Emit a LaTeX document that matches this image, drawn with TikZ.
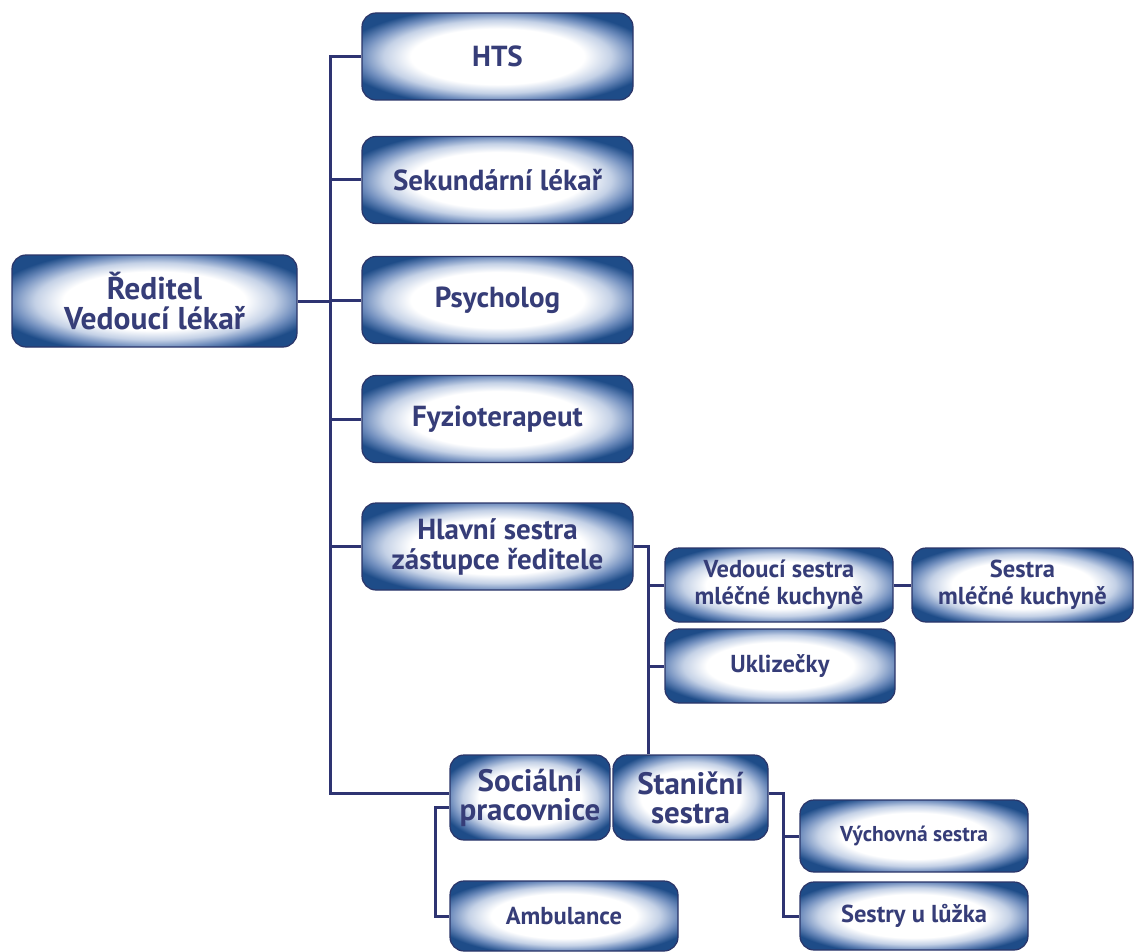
\documentclass[tikz,border=0pt]{standalone}
\usepackage{fontspec}
\setmainfont{PT Sans}
\definecolor{boxdark}{HTML}{1E4C88}
\definecolor{boxmid}{HTML}{6F8DBD}
\definecolor{boxlight}{HTML}{C4D1E6}
\definecolor{boxborder}{HTML}{2B3569}
\definecolor{txt}{HTML}{363D78}
\definecolor{linec}{HTML}{2E3472}
\pgfdeclareradialshading{boxshade}{\pgfpoint{0bp}{0bp}}{color(0bp)=(white); color(16bp)=(white); color(21bp)=(boxlight); color(25bp)=(boxmid); color(29bp)=(boxdark); color(50bp)=(boxdark)}
\tikzset{
  orgbox/.style={rectangle, rounded corners=14pt, draw=boxborder, line width=1.2pt, shading=boxshade, text=txt, font=\bfseries\fontsize{29}{30}\selectfont, align=center, inner sep=0pt},
  bigbox/.style={orgbox, minimum width=271pt, minimum height=87pt},
  smallbox/.style={orgbox, font=\bfseries\fontsize{24.5}{27}\selectfont, minimum width=228pt, minimum height=74pt},
  conn/.style={draw=linec, line width=3pt}
}
\begin{document}
\begin{tikzpicture}[x=1pt,y=-1pt]
\useasboundingbox[fill=white] (0,0) rectangle (1134,952);
% nodes
\node[orgbox, font=\bfseries\fontsize{31.5}{30}\selectfont, minimum width=285pt, minimum height=92pt] (dir) at (154.5,301) {Ředitel\\Vedoucí lékař};
\node[bigbox] (hts) at (497.5,56.5) {HTS};
\node[bigbox] (sek) at (497.5,180) {Sekundární lékař};
\node[bigbox] (psy) at (497.5,300) {Psycholog};
\node[bigbox] (fyz) at (497.5,419) {Fyzioterapeut};
\node[bigbox] (hla) at (497.5,546.5) {Hlavní sestra\\zástupce ředitele};
\node[smallbox] (ved) at (779,585) {Vedoucí sestra\\mléčné kuchyně};
\node[smallbox, minimum width=221pt] (ses) at (1022.5,585) {Sestra\\mléčné kuchyně};
\node[smallbox, minimum width=230pt] (ukl) at (780,666) {Uklizečky};
\node[orgbox, font=\bfseries\fontsize{31}{29}\selectfont, minimum width=160pt, minimum height=85pt] (soc) at (530,797.5) {Sociální\\pracovnice};
\node[orgbox, font=\bfseries\fontsize{31}{29}\selectfont, minimum width=155pt, minimum height=85pt] (sta) at (690.5,797.5) {Staniční\\sestra};
\node[smallbox, minimum height=70pt] (amb) at (564,916) {Ambulance};
\node[smallbox, font=\bfseries\fontsize{21.5}{24}\selectfont, minimum height=72pt] (vych) at (914,836) {Výchovná sestra};
\node[smallbox, minimum height=68pt] (sestry) at (914,916) {Sestry u lůžka};
% connectors
\coordinate (t1) at (330,56.5);
\coordinate (t2) at (330,793);
\draw[conn] (hts.west) -- (t1) -- (t2) -- (t2 -| soc.west);
\draw[conn] (sek.west) -- (sek.west -| t1);
\draw[conn] (psy.west) -- (psy.west -| t1);
\draw[conn] (fyz.west) -- (fyz.west -| t1);
\draw[conn] (hla.west) -- (hla.west -| t1);
\draw[conn] (dir.east) -- (dir.east -| t1);
\coordinate (h1) at (648,546.5);
\draw[conn] (hla.east) -- (h1) -- (h1 |- sta.north);
\draw[conn] (ved.west) -- (ved.west -| h1);
\draw[conn] (ukl.west) -- (ukl.west -| h1);
\draw[conn] (ved.east) -- (ses.west);
\coordinate (s1) at (435,807);
\draw[conn] (s1 -| soc.west) -- (s1) |- (amb.west);
\coordinate (st1) at (783,793);
\draw[conn] (st1 -| sta.east) -- (st1) |- (sestry.west);
\draw[conn] (vych.west) -- (vych.west -| st1);
\end{tikzpicture}
\end{document}
